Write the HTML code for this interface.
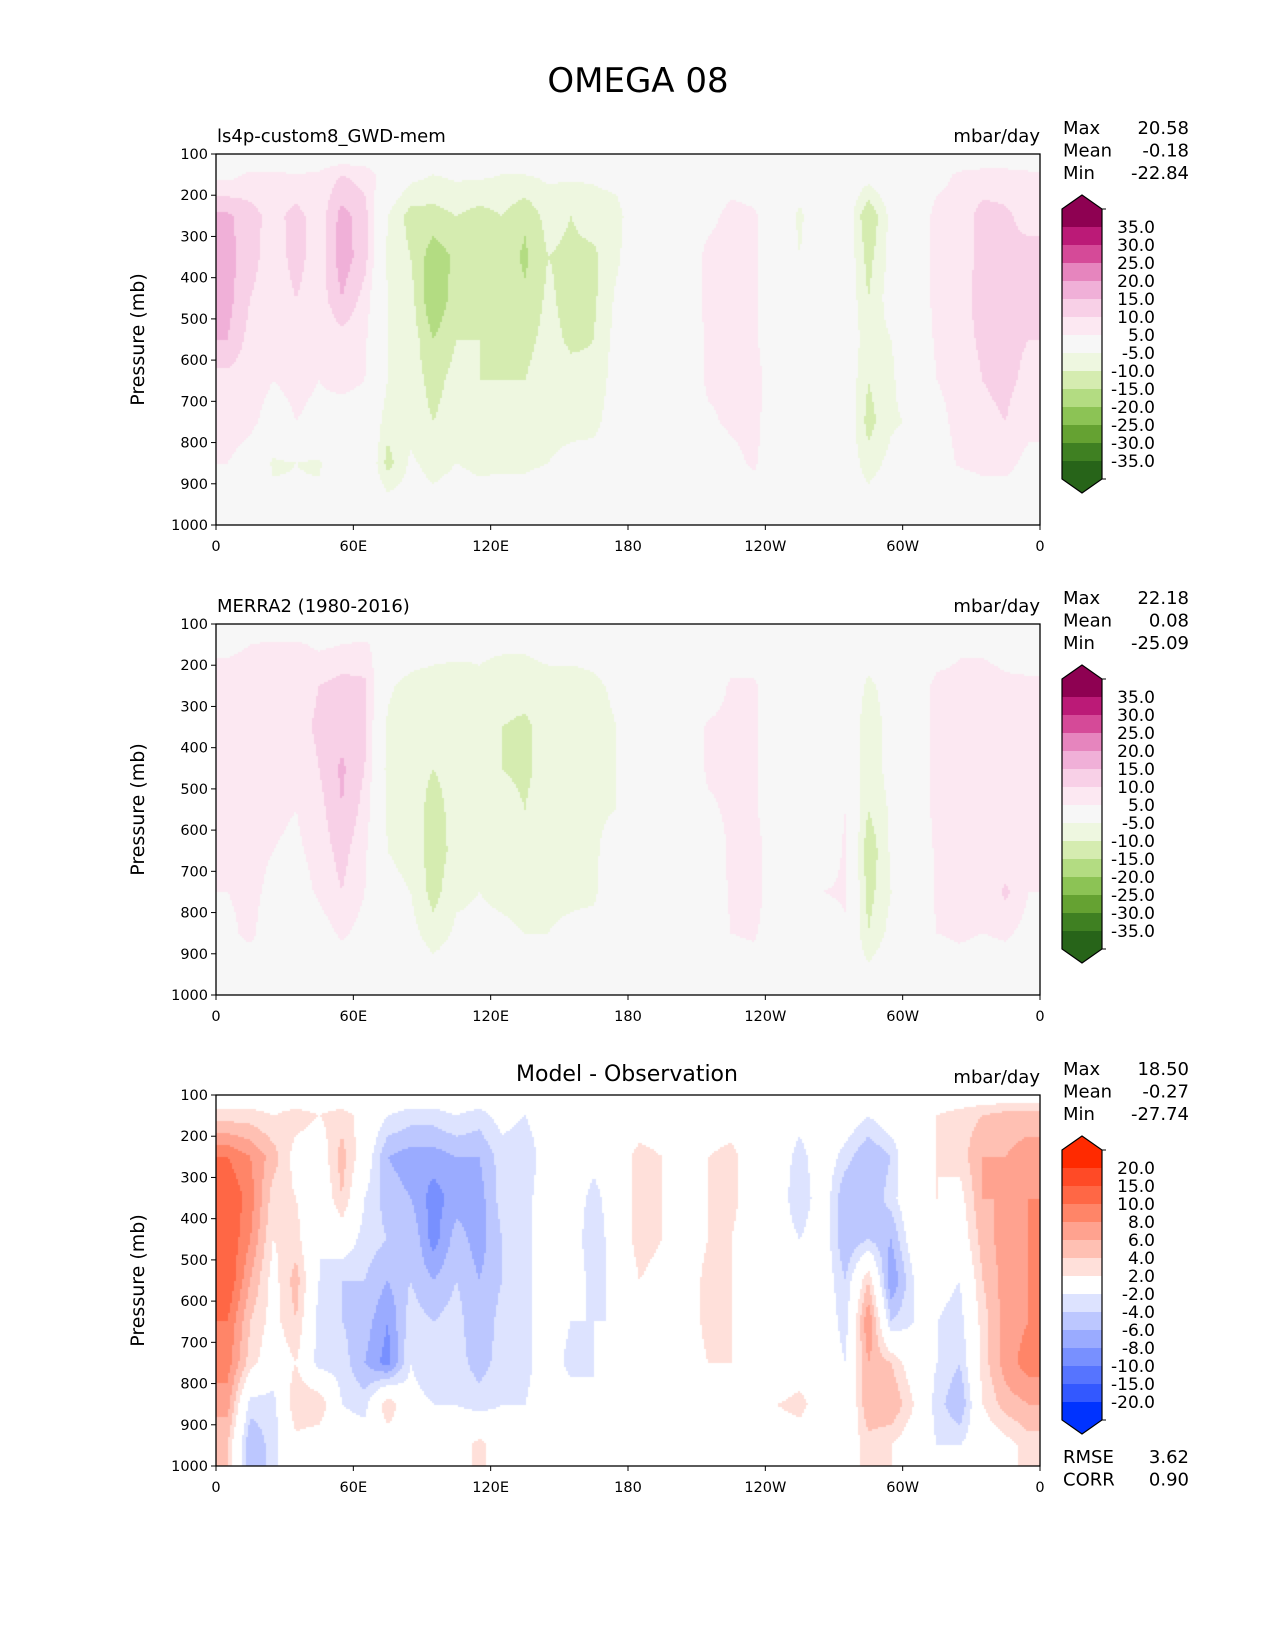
<!DOCTYPE html>
<html><head><meta charset="utf-8">
<style>
html,body{margin:0;padding:0;background:#fff;}
#root{position:relative;width:1275px;height:1650px;background:#fff;font-family:"DejaVu Sans","Liberation Sans",sans-serif;}
canvas{position:absolute;}
svg{position:absolute;left:0;top:0;}
</style></head>
<body>
<div id="root">
<canvas id="c0"></canvas>
<canvas id="c1"></canvas>
<canvas id="c2"></canvas>
<svg id="svg" width="1275" height="1650"></svg>
</div>
<script>
// ---- data ----
const lonCenters = [5,15,25,35,45,55,65,75,85,95,105,115,125,135,145,155,165,175,185,195,205,215,225,235,245,255,265,275,285,295,305,315,325,335,345,355];
const pLevels = [150,250,350,450,550,650,750,850,950];
const xTickLabels = ["0","60E","120E","180","120W","60W","0"];
const xTickLons = [0,60,120,180,240,300,360];
const yTicks = [100,200,300,400,500,600,700,800,900,1000];
const seqBounds = [-35,-30,-25,-20,-15,-10,-5,5,10,15,20,25,30,35];
const seqColors = ["#276419","#3f8022","#65a232","#8cc355","#b3dc82","#d5ecb0","#eef7e0","#f7f7f7","#fce8f2","#f8d0e7","#f0b0d8","#e685be","#d54a98","#bb1a77","#8e0152"];
const diffBounds = [-20,-15,-10,-8,-6,-4,-2,2,4,6,8,10,15,20];
const diffColors = ["#0033ff","#3358ff","#5674ff","#7890ff","#9aabff","#bcc7ff","#dde3ff","#ffffff","#ffe0da","#ffc0b3","#ffa28f","#ff8568","#ff6745","#ff4a26","#ff2a00"];
const modelField = [
[3,16,17,17,15,8,7,5,3],[6,12,12,10,8,7,6,3,2],[6,8,7,7,6,5,3,-6,-3],[5,12,12,10,6,6,5,-5,-4],
[6,7,7,7,5,5,4,-6,-3],[10,17,18,15,8,6,3,2,1],[8,12,12,8,6,5,3,3,1],[2,-5,-6,-5,-5,-5,-8,-12,-2],
[-3,-12,-10,-8,-7,-7,-7,-4,-2],[-5,-12,-18,-20,-15,-12,-10,-7,-3],[-4,-10,-14,-12,-10,-8,-7,-5,-2],
[-4,-12,-12,-12,-10,-10,-8,-6,-3],[-5,-10,-12,-12,-11,-10,-8,-6,-2],[-5,-14,-16,-14,-12,-10,-9,-6,-2],
[-4,-8,-10,-9,-8,-6,-6,-5,-1],[-4,-10,-11,-12,-11,-8,-6,-4,-1],[-4,-8,-11,-11,-10,-9,-7,-2,0],
[-3,-7,-6,-4,-3,-2,-1,0,0],[0,0,0,0,0,0,0,0,0],[0,0,0,0,0,0,0,0,0],[0,0,0,0,0,0,0,0,0],
[0,3,7,7,6,6,4,1,0],[2,7,7,6,6,6,6,3,0],[1,6,6,6,6,8,7,6,1],[0,0,0,0,0,0,0,0,0],
[-2,-6,-5,-2,0,0,0,0,0],[0,0,0,0,0,0,0,0,0],[0,0,0,0,0,0,0,0,0],
[-2,-15,-12,-10,-8,-10,-12,-8,-2],[0,-3,-3,-2,-5,-6,-6,-3,0],[0,0,0,0,0,0,-4,0,0],
[3,7,7,7,6,5,3,1,0],[6,7,7,8,8,7,7,6,-3],[7,12,12,12,11,10,9,7,1],[7,11,11,11,11,11,10,7,1],[6,8,12,11,10,9,7,3,0]];
const obsField = [
[4,7,7,6,6,6,5,4,2],[5,7,6,6,6,6,6,6,2],[6,7,6,6,6,5,4,2,0],[6,7,8,6,5,4,2,-4,-2],
[4,10,11,10,8,7,6,2,1],[5,12,13,16,15,12,10,6,1],[6,11,11,10,8,6,5,3,1],[1,-4,-6,-7,-6,-5,-4,-3,0],
[-1,-7,-8,-8,-7,-6,-5,-3,0],[-2,-8,-9,-10,-12,-13,-12,-8,-2],[-3,-8,-8,-8,-8,-8,-6,-4,-1],
[-4,-6,-6,-6,-6,-6,-5,-4,-1],[-4,-8,-10,-10,-8,-7,-6,-4,-1],[-4,-8,-11,-11,-10,-8,-7,-5,-2],
[-3,-7,-8,-8,-7,-7,-6,-5,-1],[-3,-7,-8,-8,-7,-7,-6,-4,0],[-3,-6,-7,-7,-6,-6,-6,-3,0],
[-1,-4,-5,-5,-5,-2,0,0,0],[0,0,0,0,0,0,0,0,0],[0,0,0,0,0,0,0,0,0],[0,0,0,0,0,0,0,0,0],
[0,0,6,6,4,1,0,0,0],[0,6,7,6,6,6,6,5,1],[0,6,6,6,6,8,8,6,1],[0,0,0,0,0,0,0,0,0],
[0,0,0,0,0,0,0,0,0],[0,0,0,0,0,0,5,0,0],[0,0,0,0,5,6,6,4,0],
[-2,-6,-8,-8,-10,-14,-12,-10,-3],[0,-3,-3,-3,-4,-4,-5,-3,0],[0,0,0,0,0,0,0,0,0],
[1,7,7,7,7,6,6,5,1],[4,7,7,7,7,7,7,6,2],[4,7,7,7,7,7,6,5,1],[3,6,6,6,6,6,11,6,1],[2,6,7,6,5,5,5,3,0]];
const diffField = [
[3,10,12,12,12,10,9,7,4],[3,8,9,8,6,4,3,-3,-6],[2,5,3,2,1,1,0,-3,-3],[3,1,2,3,5,4,2,4,1],
[2,0,-1,-2,-2,-3,-3,4,0],[3,5,4,0,-4,-4,-3,-2,0],[1,0,-2,-3,-4,-5,-6,-3,0],[-2,-6,-5,-4,-6,-8,-9,4,0],
[-3,-7,-6,-4,-4,-3,-2,-1,0],[-3,-7,-9,-9,-6,-4,-4,-2,0],[-2,-6,-7,-5,-4,-3,-3,-2,0],
[-3,-6,-7,-7,-6,-6,-5,-3,3],[-1,-3,-3,-4,-4,-3,-3,-2,0],[-2,-4,-3,-3,-3,-3,-3,-2,-1],
[0,0,0,0,0,0,0,0,0],[0,0,0,0,0,-2,-3,0,0],[0,-1,-3,-4,-3,-2,-2,-2,-2],[0,0,0,0,-1,-2,-1,-2,-2],
[0,3,3,3,2,0,0,0,-2],[0,2,2,2,1,0,0,0,-1],[0,0,0,0,0,0,0,0,0],
[0,2,2,2,3,3,2,0,0],[0,3,3,2,2,2,2,0,-1],[0,0,0,0,0,0,0,0,-1],[0,0,0,0,0,-2,-2,2,0],
[-1,-3,-4,-2,0,0,0,3,0],[0,0,0,0,0,0,0,0,0],[0,-3,-6,-6,-4,-3,-2,-2,0],
[-2,-6,-6,-4,4,8,6,6,3],[0,-4,-3,-6,-8,-4,4,6,2],[0,2,1,0,-2,-2,0,2,0],
[2,2,2,0,-1,-2,-2,-3,-2],[3,3,1,0,-2,-3,-4,-6,-2],[4,6,6,5,4,3,3,2,0],[5,6,6,7,7,7,7,5,1],[5,7,8,8,8,8,9,6,3]];
const seqLabels = ["35.0","30.0","25.0","20.0","15.0","10.0","5.0","-5.0","-10.0","-15.0","-20.0","-25.0","-30.0","-35.0"];
const diffLabels = ["20.0","15.0","10.0","8.0","6.0","4.0","2.0","-2.0","-4.0","-6.0","-8.0","-10.0","-15.0","-20.0"];

// ---- layout ----
const L=216, R=1040, W=R-L, H=371;
const panels=[
 {top:154, field:modelField, bounds:seqBounds, colors:seqColors, name:"model",
  left:"ls4p-custom8_GWD-mem", stats:[["Max","20.58"],["Mean","-0.18"],["Min","-22.84"]], labels:seqLabels},
 {top:624, field:obsField, bounds:seqBounds, colors:seqColors, name:"obs",
  left:"MERRA2 (1980-2016)", stats:[["Max","22.18"],["Mean","0.08"],["Min","-25.09"]], labels:seqLabels},
 {top:1095, field:diffField, bounds:diffBounds, colors:diffColors, name:"diff",
  center:"Model - Observation", stats:[["Max","18.50"],["Mean","-0.27"],["Min","-27.74"]], labels:diffLabels,
  extra:[["RMSE","3.62"],["CORR","0.90"]]}
];
const xScale = lon => L + lon/360*W;
const yScale = (p,top) => top + (p-100)/900*H;

function colorFor(v,bounds,colors){let i=0;while(i<bounds.length && v>=bounds[i])i++;return colors[i];}
function sample(field,lon,p){
  let fi=(lon-lonCenters[0])/10; fi=Math.max(0,Math.min(lonCenters.length-1,fi));
  const i0=Math.floor(fi), i1=Math.min(lonCenters.length-1,i0+1), fx=fi-i0;
  let scale=1, pp=p;
  if(p<pLevels[0]){scale=(p-100)/50; pp=pLevels[0];}
  let fj=(pp-pLevels[0])/100; fj=Math.max(0,Math.min(pLevels.length-1,fj));
  const j0=Math.floor(fj), j1=Math.min(pLevels.length-1,j0+1), fy=fj-j0;
  const a=field[i0][j0]*(1-fx)+field[i1][j0]*fx, b=field[i0][j1]*(1-fx)+field[i1][j1]*fx;
  return (a*(1-fy)+b*fy)*scale;
}
const NS="http://www.w3.org/2000/svg", svg=document.getElementById('svg');
function el(tag,attrs,parent){const e=document.createElementNS(NS,tag);for(const k in attrs)e.setAttribute(k,attrs[k]);(parent||svg).appendChild(e);return e;}
function txt(s,x,y,size,anchor,parent){const t=el('text',{x:x,y:y,'font-size':size,'text-anchor':anchor||'start',fill:'#000'},parent);t.textContent=s;return t;}

const title=txt("OMEGA 08",638,92,34,'middle');



panels.forEach((pn,k)=>{
  const cv=document.getElementById('c'+k);
  cv.width=W; cv.height=H; cv.style.left=L+'px'; cv.style.top=pn.top+'px';
  const ctx=cv.getContext('2d'); const cs=2;
  for(let y=0;y<H;y+=cs){for(let x=0;x<W;x+=cs){
    const lon=(x+cs/2)/W*360, p=100+(y+cs/2)/H*900;
    ctx.fillStyle=colorFor(sample(pn.field,lon,p),pn.bounds,pn.colors);
    ctx.fillRect(x,y,cs,cs);}}
  const g=el('g',{});
  
  
  const frame=el('rect',{x:L,y:pn.top,width:W,height:H,fill:'none',stroke:'#000','stroke-width':1.3},g);
  
  
  yTicks.forEach(p=>{const yy=yScale(p,pn.top);
    el('line',{x1:L-5,x2:L,y1:yy,y2:yy,stroke:'#000','stroke-width':1},g);
    const t=txt(String(p),L-8,yy+5,14.5,'end',g);
    
    });
  xTickLons.forEach((lo,i)=>{const xx=xScale(lo);
    el('line',{x1:xx,x2:xx,y1:pn.top+H,y2:pn.top+H+5,stroke:'#000','stroke-width':1},g);
    const t=txt(xTickLabels[i],xx,pn.top+H+26,14.5,'middle',g);
    
    });
  const yl=txt("Pressure (mb)",0,0,19,'middle',g);
  yl.setAttribute('transform',`translate(144,${pn.top+H/2}) rotate(-90)`);
  
  
  if(pn.left){const t=txt(pn.left,L+1,pn.top-12,18,'start',g);
    
    }
  if(pn.center){const t=txt(pn.center,627,pn.top-14,22,'middle',g);
    
    }
  const u=txt("mbar/day",R,pn.top-12,18,'end',g);
  
  
  pn.stats.forEach((s,i)=>{const yy=pn.top-20+i*22.5;
    const a=txt(s[0],1063,yy,18,'start',g);
    
    
    const b=txt(s[1],1189,yy,18,'end',g);
    
    });
  if(pn.extra){pn.extra.forEach((s,i)=>{const yy=1463+i*22.5;
    const a=txt(s[0],1063,yy,18,'start',g);
    
    
    const b=txt(s[1],1189,yy,18,'end',g);
    
    });}
  // colorbar
  const cb=el('g',{},g);
  
  
  const x0=1062,x1=1102,tip=pn.top+41,base=tip+14,seg=18,n=pn.colors.length;
  const bottom=base+seg*n;
  el('polygon',{points:`${x0},${base+0.5} ${(x0+x1)/2},${tip} ${x1},${base+0.5}`,fill:pn.colors[n-1]},cb);
  el('polygon',{points:`${x0},${bottom-0.5} ${(x0+x1)/2},${bottom+14} ${x1},${bottom-0.5}`,fill:pn.colors[0]},cb);
  for(let i=0;i<n;i++){
    el('rect',{x:x0,y:base+i*seg,width:x1-x0,height:seg+0.5,fill:pn.colors[n-1-i]},cb);}
  el('polygon',{points:`${x0},${base} ${(x0+x1)/2},${tip} ${x1},${base} ${x1},${bottom} ${(x0+x1)/2},${bottom+14} ${x0},${bottom}`,fill:'none',stroke:'#000','stroke-width':1.2},cb);
  el('line',{x1:x1,x2:x1+4,y1:base,y2:base,stroke:'#000','stroke-width':1},cb);
  el('line',{x1:x1,x2:x1+4,y1:bottom,y2:bottom,stroke:'#000','stroke-width':1},cb);
  pn.labels.forEach((lb,i)=>{const yy=base+seg*(i+1);
    const t=txt(lb,1155,yy+6,17,'end',cb);
    
    });
});
</script>
</body></html>
